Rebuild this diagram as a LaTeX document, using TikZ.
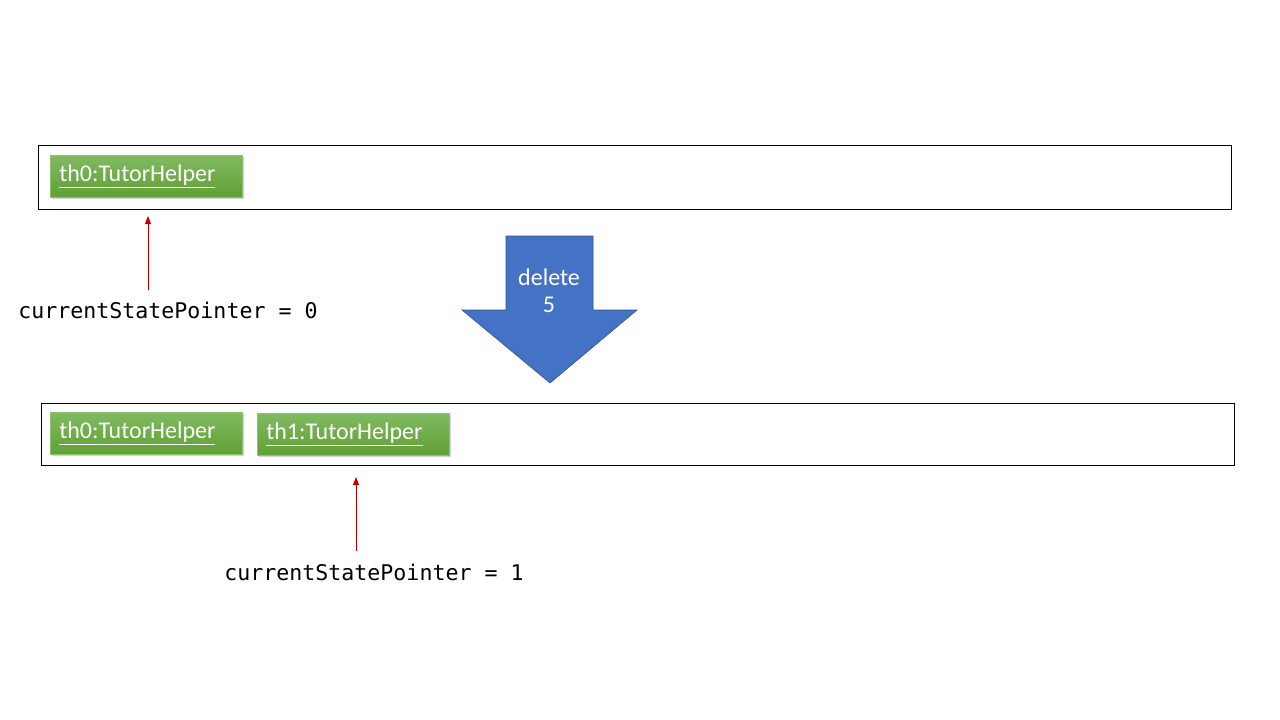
\documentclass[tikz,border=0pt]{standalone}
\usepackage{fontspec}
\setmainfont{Carlito}
\newfontfamily\monofont{DejaVu Sans Mono}
\usetikzlibrary{shadows,arrows.meta}
\definecolor{gtop}{RGB}{128,186,96}
\definecolor{gbot}{RGB}{96,160,52}
\definecolor{gedge}{RGB}{140,196,110}
\definecolor{barrow}{RGB}{68,114,196}
\definecolor{barrowedge}{RGB}{47,82,143}
\definecolor{ptr}{RGB}{192,0,0}
\begin{document}
\begin{tikzpicture}[x=1pt,y=-1pt,
  frame/.style={draw=black,line width=0.9pt,fill=white},
  obj/.style={draw=gedge,line width=0.6pt,top color=gtop,bottom color=gbot,
    minimum height=42pt,inner xsep=9pt,inner ysep=0pt,text width=174pt,align=left,
    drop shadow={shadow xshift=1.5pt,shadow yshift=-2pt,opacity=0.35},
    font=\fontsize{24}{28}\selectfont,text=white},
  ptrarrow/.style={draw=ptr,line width=0.9pt,-{Triangle[length=8pt,width=6pt]}},
  ptrlabel/.style={font=\monofont\fontsize{21.6}{26}\selectfont,inner sep=0pt},
  arrowlabel/.style={font=\fontsize{24}{28}\selectfont,text=white,inner sep=0pt}]
\useasboundingbox (0,0) rectangle (1280,720);
% top frame
\node[frame,minimum width=1193pt,minimum height=64pt,inner sep=0pt] (f1) at (634.5,177) {};
\node[obj,anchor=north west] (a0) at (50,155) {\underline{th0:TutorHelper}};
\coordinate (p1tip) at (148,216);
\node[ptrlabel] (l0) at (168,310) {currentStatePointer = 0};
\draw[ptrarrow] (148,290) -- (p1tip);
% block arrow
\path[fill=barrow,draw=barrowedge,line width=0.6pt]
  (506,236) -- (593,236) -- (593,310) -- (637,310) -- (550,383) -- (462,310) -- (506,310) -- cycle;
\node[arrowlabel] (d1) at (549,277) {delete};
\node[arrowlabel] (d2) at (549,305) {5};
% bottom frame
\node[frame,minimum width=1193pt,minimum height=62pt,inner sep=0pt] (f2) at (637.5,434) {};
\node[obj,anchor=north west] (b0) at (50,412) {\underline{th0:TutorHelper}};
\node[obj,anchor=north west] (b1) at (257,413) {\underline{th1:TutorHelper}};
\coordinate (p2tip) at (356,477);
\node[ptrlabel] (l1) at (374,572) {currentStatePointer = 1};
\draw[ptrarrow] (356,551) -- (p2tip);
\end{tikzpicture}
\end{document}
